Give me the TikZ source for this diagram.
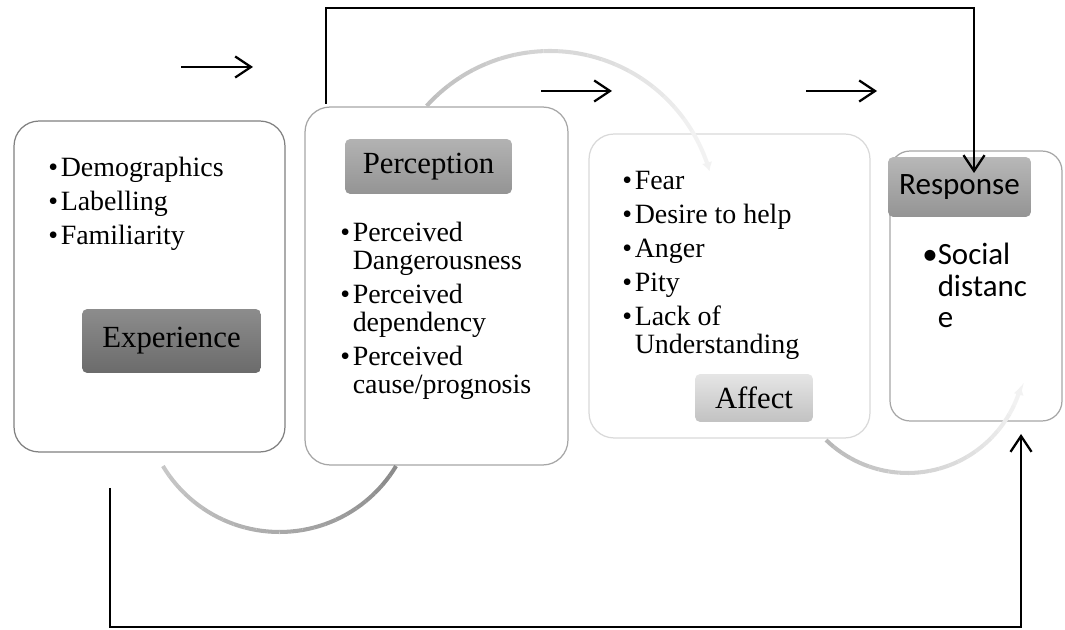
\documentclass[tikz,border=0pt]{standalone}
\usepackage{fontspec}
\setmainfont{Liberation Serif}
\newfontfamily\calibrifont{Carlito}
\usetikzlibrary{arrows.meta,calc}

% gray arc that fades from one shade to another: center, radius, from, to, shade1, shade2, tip
\newcommand{\fadearc}[7]{%
  \foreach \k in {1,...,23}{%
    \pgfmathsetmacro\angA{#3+(#4-#3)*(\k-1)/24}%
    \pgfmathsetmacro\angB{#3+(#4-#3)*\k/24}%
    \pgfmathtruncatemacro\arcgray{#5+(#6-#5)*(\k-1)/22}%
    \draw[arcline, draw=black!\arcgray] (#1) ++(\angA:#2) arc[start angle=\angA, end angle=\angB, radius=#2];
  }%
  \pgfmathsetmacro\angA{#3+(#4-#3)*23/24}%
  \draw[arcline, draw=black!#6, fill=black!#6, #7] (#1) ++(\angA:#2) arc[start angle=\angA, end angle=#4, radius=#2];
}

\begin{document}
\begin{tikzpicture}[x=0.02cm, y=0.02cm,
  every node/.style={inner sep=0pt},
  panel/.style={draw=#1, fill=white, line width=0.7pt, rounded corners=0.5cm},
  tag/.style={rounded corners=3pt, font=\fontsize{17.5}{20}\selectfont},
  items/.style={anchor=base west, font=\fontsize{15.9}{15.9}\selectfont},
  arcline/.style={line width=2.3pt},
  conn/.style={line width=1.3pt, -{Straight Barb[length=9pt,width=12pt]}},
]
\useasboundingbox (0,0) rectangle (1065,629);

% ---------------- panels ----------------
\node[panel=black!50, minimum width=5.42cm, minimum height=6.62cm] (expbox)  at (149.5,342.5) {};
\node[panel=black!35, minimum width=5.26cm, minimum height=7.16cm] (percbox) at (436.5,343) {};
\node[panel=black!15, minimum width=5.62cm, minimum height=6.08cm] (affbox)  at (729.5,343) {};
\node[panel=black!35, minimum width=3.44cm, minimum height=5.40cm, rounded corners=0.4cm] (respbox) at (976,343) {};

% ---------------- gray arcs ----------------
\fadearc{550,412}{166}{138}{16}{25}{5}{-{Latex[length=5pt,width=6pt]}}
\fadearc{279.5,233}{136}{211}{329}{22}{45}{-}
\fadearc{907.6,273.4}{117.4}{226}{345}{28}{5}{-{Latex[length=5pt,width=6pt]}}

% ---------------- tags ----------------
\node[tag, top color=black!45, bottom color=black!58, minimum width=3.58cm, minimum height=1.28cm] (exp)  at (171.5,288) {Experience};
\node[tag, top color=black!30, bottom color=black!42, minimum width=3.34cm, minimum height=1.10cm] (perc) at (428.5,462.5) {Perception};
\node[tag, top color=black!10, bottom color=black!24, minimum width=2.36cm, minimum height=0.96cm] (aff)  at (754,231) {Affect};
\node[tag, top color=black!28, bottom color=black!42, minimum width=2.86cm, minimum height=1.20cm, font=\calibrifont\fontsize{17.7}{20}\selectfont] (resp) at (959.5,442) {Response};

% ---------------- bullet lists ----------------
\node[items] (expitems) at (48,452) {\begin{tabular}[t]{@{}l@{\hspace{1.5pt}}l@{}}
  \textbullet & Demographics\\[3.4pt]
  \textbullet & Labelling\\[3.4pt]
  \textbullet & Familiarity
\end{tabular}};
\node[items] (percitems) at (340,387) {\begin{tabular}[t]{@{}l@{\hspace{1.5pt}}l@{}}
  \textbullet & Perceived\\
              & Dangerousness\\[3.4pt]
  \textbullet & Perceived\\
              & dependency\\[3.4pt]
  \textbullet & Perceived\\
              & cause/prognosis
\end{tabular}};
\node[items] (affitems) at (622,439) {\begin{tabular}[t]{@{}l@{\hspace{1.5pt}}l@{}}
  \textbullet & Fear\\[3.4pt]
  \textbullet & Desire to help\\[3.4pt]
  \textbullet & Anger\\[3.4pt]
  \textbullet & Pity\\[3.4pt]
  \textbullet & Lack of\\
              & Understanding
\end{tabular}};
\node[items, font=\calibrifont\fontsize{17.6}{17.9}\selectfont] (respitems) at (922,364) {\begin{tabular}[t]{@{}l@{}l@{}}
  \textbullet & Social\\
              & distanc\\
              & e
\end{tabular}};

% ---------------- black arrows ----------------
\coordinate (a1s) at (181,562); \coordinate (a1e) at (253,562);
\coordinate (a2s) at (541,538); \coordinate (a2e) at (612,538);
\coordinate (a3s) at (806,538); \coordinate (a3e) at (877,538);
\foreach \s/\e in {a1s/a1e, a2s/a2e, a3s/a3e}
  \draw[conn] (\s) -- (\e);

\coordinate (topstart) at (326,525);
\coordinate (topturn)  at (974,621);
\coordinate (respin)   at (974,456);
\draw[conn] (topstart) |- (topturn) -- (respin);

\coordinate (botstart) at (110,141);
\coordinate (botturn)  at (1021,2);
\coordinate (respup)   at (1021,195);
\draw[conn] (botstart) |- (botturn) -- (respup);
\end{tikzpicture}
\end{document}
